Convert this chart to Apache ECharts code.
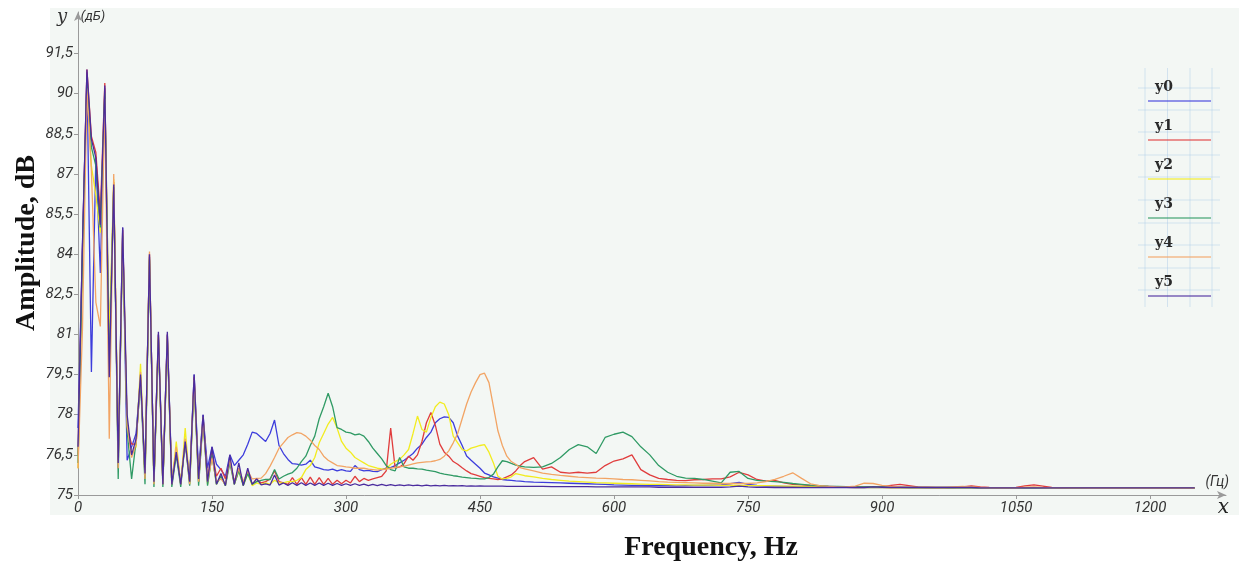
<!DOCTYPE html>
<html>
<head>
<meta charset="utf-8">
<title>Amplitude spectrum</title>
<script src="https://cdn.jsdelivr.net/npm/echarts@6/dist/echarts.min.js"></script>
<style>
  html, body { margin: 0; padding: 0; background: #ffffff; }
  #chart { width: 1239px; height: 566px; }
</style>
</head>
<body>
<div id="chart"></div>
<script>
// Frequency grid of the spectra: 5 Hz steps up to 500 Hz, 10 Hz steps above.
const freqHz = [];
for (let f = 0; f <= 500; f += 5) freqHz.push(f);
for (let f = 510; f <= 1250; f += 10) freqHz.push(f);

const seriesNames = ['y0', 'y1', 'y2', 'y3', 'y4', 'y5'];
const xTicks = [0, 150, 300, 450, 600, 750, 900, 1050, 1200];
const yTicks = [75, 76.5, 78, 79.5, 81, 82.5, 84, 85.5, 87, 88.5, 90, 91.5];

// Amplitude, dB — one value per entry of freqHz
const y0 = [
  77.5, 84.3, 90.8, 79.6, 87.6, 83.3, 90.2, 80.5, 86.5, 76.3,       // 0–45
  85.0, 76.3, 76.8, 77.3, 79.4, 75.8, 83.9, 75.5, 81.0, 75.5,       // 50–95
  81.0, 75.6, 76.6, 75.5, 77.0, 75.6, 79.5, 75.9, 78.0, 76.0,       // 100–145
  76.8, 76.15, 75.95, 75.7, 76.5, 76.1, 76.3, 76.5, 76.9, 77.35,    // 150–195
  77.3, 77.15, 77.0, 77.3, 77.8, 76.85, 76.55, 76.33, 76.17, 76.15, // 200–245
  76.12, 76.15, 76.3, 76.05, 76.0, 75.95, 75.93, 75.97, 75.9, 75.95,// 250–295
  75.9, 75.88, 76.1, 75.95, 75.9, 75.92, 75.88, 75.87, 75.95, 76.0, // 300–345
  76.02, 76.1, 76.2, 76.3, 76.42, 76.55, 76.75, 76.9, 77.15, 77.35, // 350–395
  77.7, 77.85, 77.92, 77.9, 77.7, 77.2, 76.85, 76.46, 76.3, 76.15,  // 400–445
  76.0, 75.82, 75.75, 75.68, 75.63, 75.58, 75.56, 75.55, 75.53, 75.52, // 450–495
  75.5,                                                             // 500
  75.48, 75.47, 75.46, 75.45, 75.44, 75.43, 75.42, 75.41, 75.4, 75.38, // 510–600
  75.37, 75.36, 75.36, 75.35, 75.35, 75.35, 75.34, 75.35, 75.36, 75.36, // 610–700
  75.37, 75.38, 75.42, 75.47, 75.4, 75.36, 75.34, 75.33, 75.32, 75.31,  // 710–800
  75.3, 75.3, 75.29, 75.29, 75.29, 75.29, 75.28, 75.28, 75.28, 75.28,   // 810–900
  75.28, 75.28, 75.28, 75.28, 75.27, 75.27, 75.27, 75.27, 75.27, 75.27, // 910–1000
  75.27, 75.27, 75.27, 75.27, 75.27, 75.27, 75.27, 75.27, 75.27, 75.27, // 1010–1100
  75.27, 75.27, 75.26, 75.26, 75.26, 75.26, 75.26, 75.26, 75.26, 75.26, // 1110–1200
  75.26, 75.26, 75.26, 75.26, 75.26                                     // 1210–1250
];

const y1 = [
  76.5, 84.2, 90.9, 88.4, 87.8, 85.5, 90.4, 79.5, 86.7, 76.0,
  84.9, 77.5, 76.9, 76.9, 79.4, 75.7, 84.0, 75.5, 81.0, 75.4,
  81.0, 75.4, 76.7, 75.4, 77.1, 75.5, 79.4, 75.5, 77.9, 75.6,
  76.6, 75.7, 76.0, 75.6, 76.3, 75.5, 76.0, 75.4, 75.9, 75.4,
  75.6, 75.45, 75.5, 75.6, 75.9, 75.5, 75.45, 75.4, 75.65, 75.4,
  75.65, 75.4, 75.67, 75.4, 75.65, 75.4, 75.62, 75.4, 75.55, 75.42,
  75.55, 75.45, 75.7, 75.5, 75.62, 75.55, 75.6, 75.65, 75.7, 75.9,
  77.5, 76.0, 76.05, 76.17, 76.45, 76.3, 76.5, 77.0, 77.7, 78.08,
  77.6, 76.9, 76.6, 76.45, 76.25, 76.15, 76.02, 75.9, 75.8, 75.75,
  75.7, 75.65, 75.62, 75.6, 75.58, 75.6, 75.68, 75.75, 75.9, 76.1,
  76.25,
  76.4, 75.97, 76.05, 75.85, 75.82, 75.85, 75.82, 75.85, 76.1, 76.27,
  76.35, 76.5, 75.95, 75.75, 75.62, 75.58, 75.55, 75.54, 75.57, 75.58,
  75.6, 75.6, 75.68, 75.85, 75.75, 75.58, 75.52, 75.55, 75.45, 75.4,
  75.38, 75.35, 75.33, 75.32, 75.31, 75.31, 75.3, 75.3, 75.3, 75.31,
  75.36, 75.4, 75.35, 75.3, 75.29, 75.28, 75.28, 75.28, 75.3, 75.34,
  75.3, 75.28, 75.27, 75.27, 75.28, 75.34, 75.38, 75.33, 75.28, 75.26,
  75.26, 75.26, 75.26, 75.26, 75.26, 75.26, 75.26, 75.26, 75.26, 75.26,
  75.26, 75.26, 75.26, 75.26, 75.26
];

const y2 = [
  76.0, 83.8, 90.3, 87.3, 86.2, 84.8, 90.0, 80.8, 86.8, 76.5,
  84.5, 77.6, 76.5, 76.8, 79.9, 75.6, 83.8, 75.4, 80.9, 75.4,
  80.8, 75.4, 77.0, 75.4, 77.5, 75.4, 79.3, 75.5, 77.9, 75.4,
  76.5, 75.4, 75.7, 75.35, 76.3, 75.4, 75.9, 75.35, 75.8, 75.35,
  75.45, 75.4, 75.45, 75.4, 75.55, 75.45, 75.45, 75.5, 75.5, 75.55,
  75.65, 75.95, 76.1, 76.4, 76.95, 77.3, 77.65, 77.9, 77.5, 77.0,
  76.75, 76.6, 76.4, 76.3, 76.2, 76.1, 76.05, 76.0, 75.98, 75.97,
  76.15, 76.25, 76.33, 76.5, 76.7, 77.3, 77.95, 77.45, 77.35, 77.9,
  78.3, 78.47, 78.4, 78.0, 77.2, 76.95, 76.7, 76.65, 76.75, 76.8,
  76.85, 76.88, 76.6, 76.2, 75.7, 75.6, 75.62, 75.68, 75.8, 75.76,
  75.72,
  75.68, 75.62, 75.58, 75.55, 75.52, 75.5, 75.48, 75.46, 75.45, 75.44,
  75.43, 75.42, 75.41, 75.4, 75.4, 75.39, 75.38, 75.38, 75.37, 75.37,
  75.37, 75.36, 75.36, 75.36, 75.35, 75.35, 75.35, 75.34, 75.33, 75.33,
  75.32, 75.31, 75.3, 75.3, 75.29, 75.29, 75.28, 75.28, 75.28, 75.28,
  75.27, 75.27, 75.27, 75.27, 75.27, 75.27, 75.27, 75.27, 75.27, 75.27,
  75.27, 75.27, 75.27, 75.27, 75.27, 75.27, 75.27, 75.27, 75.27, 75.27,
  75.26, 75.26, 75.26, 75.26, 75.26, 75.26, 75.26, 75.26, 75.26, 75.26,
  75.26, 75.26, 75.26, 75.26, 75.26
];

const y3 = [
  76.2, 84.0, 90.5, 88.0, 87.3, 85.0, 90.0, 79.6, 86.5, 75.6,
  84.7, 77.4, 75.6, 77.0, 79.3, 75.4, 83.8, 75.3, 80.8, 75.3,
  80.8, 75.3, 76.5, 75.3, 77.0, 75.35, 79.2, 75.35, 77.8, 75.35,
  76.5, 75.4, 75.7, 75.35, 76.2, 75.4, 75.9, 75.35, 75.8, 75.4,
  75.5, 75.55, 75.58, 75.58, 75.95, 75.6, 75.7, 75.78, 75.84, 76.0,
  76.25, 76.45, 76.85, 77.2, 77.85, 78.3, 78.8, 78.3, 77.52, 77.45,
  77.35, 77.32, 77.25, 77.28, 77.2, 77.0, 76.75, 76.55, 76.35, 76.1,
  75.95, 75.9, 76.4, 76.05, 76.0, 76.0, 75.98, 75.97, 75.93, 75.9,
  75.87, 75.82, 75.78, 75.75, 75.72, 75.7, 75.67, 75.65, 75.63, 75.62,
  75.6, 75.6, 75.65, 75.78, 76.05, 76.28, 76.25, 76.18, 76.12, 76.08,
  76.05,
  76.03, 76.05, 76.18, 76.4, 76.7, 76.88, 76.8, 76.55, 77.15, 77.27,
  77.35, 77.18, 76.8, 76.5, 76.1, 75.85, 75.7, 75.63, 75.62, 75.58,
  75.52, 75.45, 75.85, 75.88, 75.62, 75.55, 75.52, 75.5, 75.47, 75.43,
  75.4, 75.37, 75.35, 75.33, 75.32, 75.31, 75.3, 75.3, 75.3, 75.3,
  75.29, 75.29, 75.28, 75.28, 75.28, 75.28, 75.28, 75.28, 75.28, 75.28,
  75.27, 75.27, 75.27, 75.27, 75.27, 75.27, 75.27, 75.27, 75.27, 75.27,
  75.27, 75.27, 75.26, 75.26, 75.26, 75.26, 75.26, 75.26, 75.26, 75.26,
  75.26, 75.26, 75.26, 75.26, 75.26
];

const y4 = [
  76.0, 81.2, 90.2, 87.1, 82.2, 81.3, 89.8, 77.1, 87.0, 76.0,
  84.8, 77.6, 76.4, 76.9, 79.6, 75.6, 84.1, 75.4, 80.9, 75.4,
  80.9, 75.4, 76.8, 75.4, 77.1, 75.4, 79.3, 75.5, 77.8, 75.5,
  76.4, 75.5, 75.6, 75.4, 76.3, 75.45, 76.0, 75.5, 75.9, 75.6,
  75.62, 75.63, 75.8, 76.08, 76.4, 76.75, 76.95, 77.15, 77.25, 77.33,
  77.3, 77.2, 77.05, 76.85, 76.7, 76.45, 76.3, 76.2, 76.1, 76.08,
  76.05, 76.03, 76.0, 76.0, 76.0, 75.97, 75.95, 75.93, 75.95, 75.97,
  76.0, 76.03, 76.05, 76.08, 76.12, 76.16, 76.2, 76.22, 76.24, 76.25,
  76.28, 76.33, 76.45, 76.65, 76.95, 77.3, 77.85, 78.4, 78.85, 79.2,
  79.5, 79.55, 79.2, 78.3, 77.4, 76.85, 76.45, 76.25, 76.15, 76.02,
  75.98,
  75.9, 75.82, 75.77, 75.73, 75.7, 75.67, 75.65, 75.63, 75.62, 75.6,
  75.58, 75.57, 75.55, 75.53, 75.5, 75.48, 75.47, 75.46, 75.45, 75.44,
  75.44, 75.43, 75.43, 75.43, 75.43, 75.45, 75.5, 75.58, 75.7, 75.83,
  75.62, 75.42, 75.35, 75.32, 75.3, 75.3, 75.33, 75.44, 75.43, 75.36,
  75.32, 75.3, 75.29, 75.28, 75.28, 75.28, 75.28, 75.3, 75.32, 75.3,
  75.28, 75.27, 75.27, 75.27, 75.27, 75.29, 75.3, 75.28, 75.27, 75.27,
  75.27, 75.27, 75.26, 75.26, 75.26, 75.26, 75.26, 75.26, 75.26, 75.26,
  75.26, 75.26, 75.26, 75.26, 75.26
];

const y5 = [
  76.8, 84.4, 90.9, 88.3, 87.6, 85.1, 90.3, 79.4, 86.6, 76.2,
  85.0, 78.0, 76.5, 77.1, 79.5, 75.8, 84.0, 75.5, 81.1, 75.4,
  81.1, 75.4, 76.6, 75.4, 77.0, 75.5, 79.5, 75.6, 78.0, 75.5,
  76.8, 75.4, 75.8, 75.35, 76.5, 75.4, 76.2, 75.35, 76.0, 75.4,
  75.6, 75.38, 75.42, 75.37, 75.75, 75.37, 75.45, 75.36, 75.46, 75.36,
  75.46, 75.36, 75.45, 75.36, 75.45, 75.36, 75.44, 75.36, 75.43, 75.36,
  75.42, 75.36, 75.42, 75.36, 75.41, 75.35, 75.4, 75.35, 75.4, 75.35,
  75.39, 75.35, 75.38, 75.35, 75.38, 75.35, 75.37, 75.34, 75.37, 75.34,
  75.36, 75.34, 75.36, 75.34, 75.35, 75.34, 75.35, 75.33, 75.34, 75.33,
  75.34, 75.33, 75.33, 75.33, 75.33, 75.33, 75.32, 75.32, 75.32, 75.32,
  75.32,
  75.32, 75.32, 75.31, 75.31, 75.31, 75.31, 75.31, 75.3, 75.3, 75.3,
  75.3, 75.3, 75.3, 75.3, 75.29, 75.29, 75.29, 75.29, 75.29, 75.29,
  75.29, 75.29, 75.3, 75.33, 75.3, 75.29, 75.29, 75.28, 75.28, 75.28,
  75.28, 75.28, 75.28, 75.28, 75.28, 75.28, 75.28, 75.28, 75.3, 75.29,
  75.28, 75.28, 75.28, 75.28, 75.28, 75.28, 75.28, 75.28, 75.28, 75.28,
  75.27, 75.27, 75.27, 75.27, 75.27, 75.27, 75.27, 75.27, 75.27, 75.27,
  75.27, 75.27, 75.27, 75.27, 75.27, 75.27, 75.27, 75.27, 75.27, 75.27,
  75.27, 75.27, 75.27, 75.27, 75.27
];

const seriesValues = [y0, y1, y2, y3, y4, y5];
const lineColors = ['#3d3ddc', '#e03c3c', '#f2ec1e', '#2f9a64', '#f2a464', '#4b2c9e'];

const tickFont = "'Liberation Sans Narrow', 'Roboto', 'DejaVu Sans', sans-serif";
const plainNumber = v => String(v).replace('.', ',');

// Legend table in the upper right corner: label above a short colored stroke.
const legendLeft = 1145, legendTop = 70, rowStep = 39;
const legendGraphics = [];
[1145, 1167.5, 1190, 1212].forEach(x => legendGraphics.push({
  type: 'line', silent: true,
  shape: { x1: x, y1: 68, x2: x, y2: 307 },
  style: { stroke: 'rgba(170,200,230,0.45)', lineWidth: 1 }
}));
[88, 110, 132, 155, 177, 200, 223, 245, 268, 290].forEach(y => legendGraphics.push({
  type: 'line', silent: true,
  shape: { x1: 1138, y1: y, x2: 1220, y2: y },
  style: { stroke: 'rgba(170,200,230,0.45)', lineWidth: 1 }
}));
seriesNames.forEach((name, i) => {
  legendGraphics.push({
    type: 'text', silent: true,
    x: legendLeft + 10, y: legendTop + 17 + i * rowStep,
    style: {
      text: name, fill: '#2a2a2a',
      fontFamily: "'DejaVu Serif', serif", fontWeight: 'bold', fontSize: 14,
      align: 'left', verticalAlign: 'middle'
    }
  });
  legendGraphics.push({
    type: 'line', silent: true,
    shape: { x1: legendLeft + 3, y1: legendTop + 31 + i * rowStep, x2: legendLeft + 66, y2: legendTop + 31 + i * rowStep },
    style: { stroke: lineColors[i], opacity: 0.55, lineWidth: 2 }
  });
});

const chart = echarts.init(document.getElementById('chart'), null, { renderer: 'canvas' });

chart.setOption({
  animation: false,
  grid: { left: 78, right: 13, top: 12, bottom: 71 },
  xAxis: {
    type: 'value', min: 0, max: 1285,
    axisLine: {
      show: true, symbol: ['none', 'arrow'], symbolSize: [6, 9],
      lineStyle: { color: '#9a9a9a', width: 1 }
    },
    axisTick: { show: true, customValues: xTicks, length: 4, lineStyle: { color: '#9a9a9a' } },
    axisLabel: {
      customValues: xTicks, margin: 6, color: '#333',
      fontFamily: tickFont, fontStyle: 'italic', fontSize: 15,
      formatter: plainNumber
    },
    splitLine: { show: false },
    name: '{u|(Гц)}\n{x|x}',
    nameLocation: 'end', nameGap: 3,
    nameTextStyle: {
      align: 'right', verticalAlign: 'middle', lineHeight: 26,
      rich: {
        u: { fontFamily: tickFont, fontStyle: 'italic', fontSize: 14, color: '#333', align: 'right', lineHeight: 26 },
        x: { fontFamily: "'DejaVu Serif', serif", fontStyle: 'italic', fontSize: 20, color: '#222', align: 'right', lineHeight: 26 }
      }
    }
  },
  yAxis: {
    type: 'value', min: 75, max: 93.05,
    axisLine: {
      show: true, symbol: ['none', 'arrow'], symbolSize: [6, 9],
      lineStyle: { color: '#9a9a9a', width: 1 }
    },
    axisTick: { show: true, customValues: yTicks, length: 4, lineStyle: { color: '#9a9a9a' } },
    axisLabel: {
      customValues: yTicks, margin: 5, color: '#333',
      fontFamily: tickFont, fontStyle: 'italic', fontSize: 15,
      formatter: plainNumber
    },
    splitLine: { show: false },
    name: '{v|y}{u|(дБ)}',
    nameLocation: 'end', nameGap: -5,
    nameTextStyle: {
      align: 'center', verticalAlign: 'middle',
      rich: {
        v: { fontFamily: "'DejaVu Serif', serif", fontStyle: 'italic', fontSize: 18, color: '#333',
             width: 16, align: 'right', padding: [0, 8, 0, 0] },
        u: { fontFamily: tickFont, fontStyle: 'italic', fontSize: 13, color: '#333',
             width: 18, align: 'left', padding: [0, 0, 0, 6] }
      }
    }
  },
  graphic: [
    {
      type: 'rect', silent: true, z: -10,
      shape: { x: 50, y: 8, width: 1189, height: 507 },
      style: { fill: '#f3f7f4' }
    },
    {
      type: 'text', silent: true, x: 27, y: 243, rotation: Math.PI / 2,
      style: {
        text: 'Amplitude, dB', fill: '#111',
        fontFamily: "'Liberation Serif', 'DejaVu Serif', serif", fontWeight: 'bold', fontSize: 28,
        align: 'center', verticalAlign: 'middle'
      }
    },
    {
      type: 'text', silent: true, x: 711, y: 548,
      style: {
        text: 'Frequency, Hz', fill: '#111',
        fontFamily: "'Liberation Serif', 'DejaVu Serif', serif", fontWeight: 'bold', fontSize: 28,
        align: 'center', verticalAlign: 'middle'
      }
    }
  ].concat(legendGraphics),
  series: seriesNames.map((name, i) => ({
    name: name,
    type: 'line',
    showSymbol: false,
    symbol: 'none',
    smooth: false,
    z: 2 + i,
    lineStyle: { color: lineColors[i], width: 1.3 },
    itemStyle: { color: lineColors[i] },
    data: freqHz.map((f, k) => [f, seriesValues[i][k]])
  }))
});
</script>
</body>
</html>
